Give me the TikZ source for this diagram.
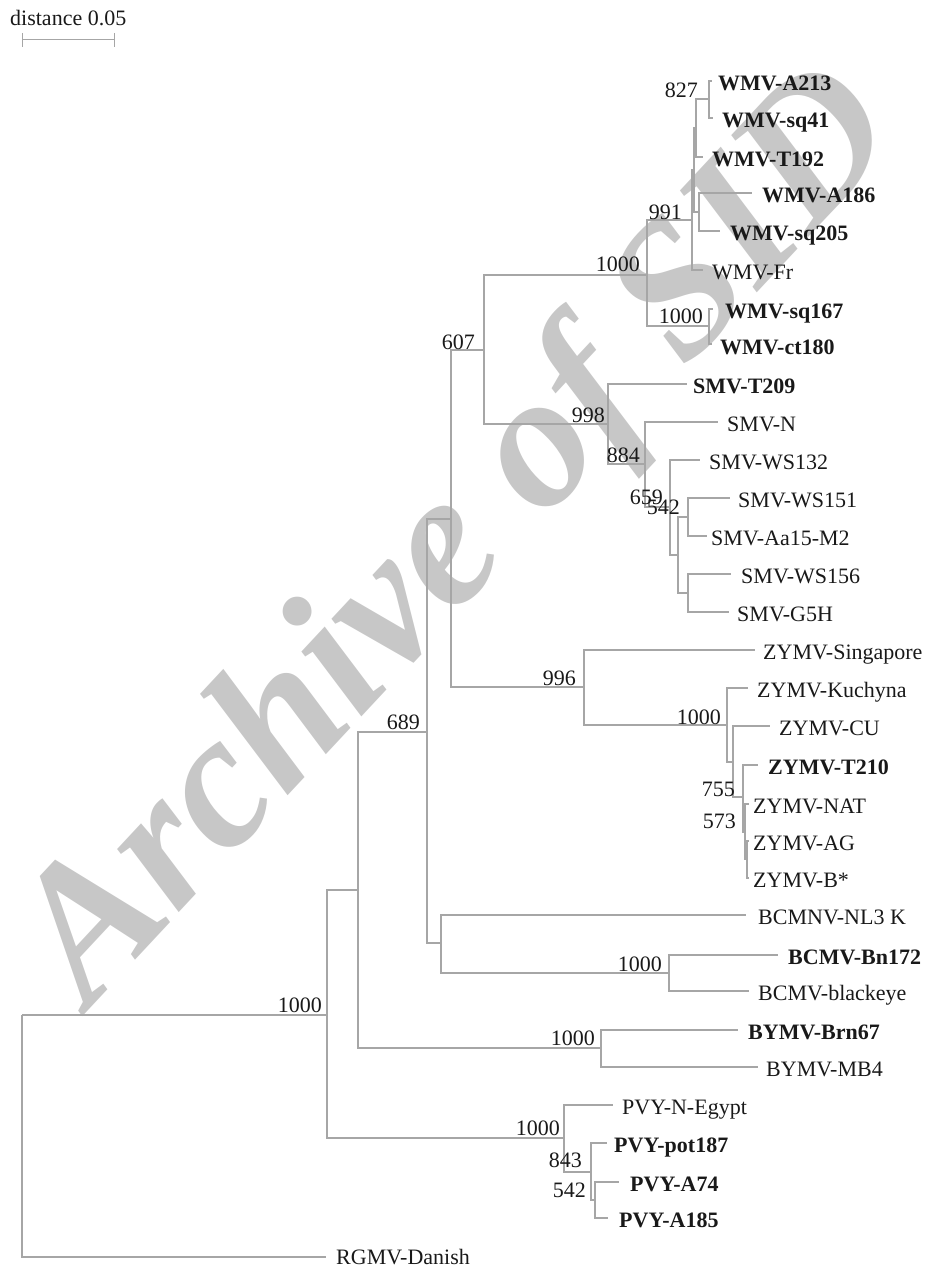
\documentclass[tikz,border=0pt]{standalone}
\usepackage{fontspec}
\setmainfont{Liberation Serif}
\begin{document}
\begin{tikzpicture}[x=1pt,y=-1pt,
  branch/.style={draw=black!35,line width=1.3pt},
  leaf/.style={anchor=west,inner sep=0pt,text height=14.5pt,text depth=0pt,text=black!90,font=\fontsize{22}{26}\selectfont},
  leafb/.style={leaf,font=\fontsize{22}{26}\selectfont\bfseries},
  boot/.style={anchor=east,inner sep=0pt,text height=14.5pt,text depth=0pt,text=black!90,font=\fontsize{22}{26}\selectfont},
  wmark/.style={rotate=47,text=black!22,inner sep=0pt,font=\fontsize{192}{192}\selectfont\bfseries\itshape}]
\useasboundingbox (0,0) rectangle (933,1268);
% watermark
\node[wmark] (wm) at (462,540) {Archive of SID};
% scale bar
\node[leaf] (dist) at (10,18) {distance 0.05};
\coordinate (sbL) at (22,40); \coordinate (sbR) at (114,40);
\coordinate (sbLt) at (22,33); \coordinate (sbLb) at (22,47);
\coordinate (sbRt) at (114,33); \coordinate (sbRb) at (114,47);
\draw[branch,line width=1pt] (sbL) -- (sbR) (sbLt) -- (sbLb) (sbRt) -- (sbRb);
% internal nodes
\coordinate (R) at (22,1015);
\coordinate (BIG) at (327,1015);
\coordinate (N358) at (358,890);
\coordinate (X) at (427,732);
\coordinate (N450) at (451,519);
\coordinate (N607) at (484,350);
\coordinate (WMVc) at (647,275);
\coordinate (N991) at (692,220);
\coordinate (D) at (694,170);
\coordinate (E) at (696,128);
\coordinate (N827) at (709,99);
\coordinate (F) at (699,212);
\coordinate (N1000b) at (709,326);
\coordinate (N998) at (608,424);
\coordinate (N884) at (645,464);
\coordinate (N659) at (670,507);
\coordinate (N542) at (678,555);
\coordinate (N151) at (688,517);
\coordinate (N156) at (688,593);
\coordinate (N996) at (584,687);
\coordinate (NZi) at (727,725);
\coordinate (N733) at (733,762);
\coordinate (NA) at (743,797);
\coordinate (NB) at (745,832);
\coordinate (NC) at (747,859);
\coordinate (N441) at (441,943);
\coordinate (NBC) at (669,973);
\coordinate (N601) at (601,1048);
\coordinate (N564) at (564,1138);
\coordinate (N843) at (591,1172);
\coordinate (N542p) at (595,1200);
% tip ends
\coordinate (tA213) at (712,81);
\coordinate (tsq41) at (713,118);
\coordinate (tT192) at (703,157);
\coordinate (tA186) at (752,193);
\coordinate (tsq205) at (720,231);
\coordinate (tFr) at (703,270);
\coordinate (tsq167) at (713,309);
\coordinate (tct180) at (712,344);
\coordinate (tT209) at (687,384);
\coordinate (tSMVN) at (718,422);
\coordinate (tWS132) at (700,460);
\coordinate (tWS151) at (730,498);
\coordinate (tAa15) at (707,536);
\coordinate (tWS156) at (731,574);
\coordinate (tG5H) at (729,612);
\coordinate (tSing) at (755,650);
\coordinate (tKuch) at (748,688);
\coordinate (tCU) at (770,726);
\coordinate (tT210) at (758,765);
\coordinate (tNAT) at (749,804);
\coordinate (tAG) at (749,841);
\coordinate (tB) at (749,878);
\coordinate (tNL3) at (746,915);
\coordinate (tBn172) at (778,955);
\coordinate (tblack) at (749,991);
\coordinate (tBrn67) at (738,1030);
\coordinate (tMB4) at (758,1067);
\coordinate (tNEg) at (613,1105);
\coordinate (tpot) at (607,1143);
\coordinate (tA74) at (619,1182);
\coordinate (tA185) at (608,1218);
\coordinate (tRGMV) at (326,1257);
% branches
\draw[branch]
 (R) |- (BIG) (R) |- (tRGMV)
 (BIG) |- (N358) (BIG) |- (N564)
 (N358) |- (X) (N358) |- (N601)
 (X) |- (N450) (X) |- (N441)
 (N450) |- (N607) (N450) |- (N996)
 (N607) |- (WMVc) (N607) |- (N998)
 (WMVc) |- (N991) (WMVc) |- (N1000b)
 (N991) |- (D) (N991) |- (tFr)
 (D) |- (E) (D) |- (F)
 (E) |- (N827) (E) |- (tT192)
 (N827) |- (tA213) (N827) |- (tsq41)
 (F) |- (tA186) (F) |- (tsq205)
 (N1000b) |- (tsq167) (N1000b) |- (tct180)
 (N998) |- (tT209) (N998) |- (N884)
 (N884) |- (tSMVN) (N884) |- (N659)
 (N659) |- (tWS132) (N659) |- (N542)
 (N542) |- (N151) (N542) |- (N156)
 (N151) |- (tWS151) (N151) |- (tAa15)
 (N156) |- (tWS156) (N156) |- (tG5H)
 (N996) |- (tSing) (N996) |- (NZi)
 (NZi) |- (tKuch) (NZi) |- (N733)
 (N733) |- (tCU) (N733) |- (NA)
 (NA) |- (tT210) (NA) |- (NB)
 (NB) |- (tNAT) (NB) |- (NC)
 (NC) |- (tAG) (NC) |- (tB)
 (N441) |- (tNL3) (N441) |- (NBC)
 (NBC) |- (tBn172) (NBC) |- (tblack)
 (N601) |- (tBrn67) (N601) |- (tMB4)
 (N564) |- (tNEg) (N564) |- (N843)
 (N843) |- (tpot) (N843) |- (N542p)
 (N542p) |- (tA74) (N542p) |- (tA185);
% leaf labels
\node[leafb] (lA213) at (718,83) {WMV-A213};
\node[leafb] (lsq41) at (722,120) {WMV-sq41};
\node[leafb] (lT192) at (712,159) {WMV-T192};
\node[leafb] (lA186) at (762,195) {WMV-A186};
\node[leafb] (lsq205) at (730,233) {WMV-sq205};
\node[leaf] (lFr) at (712,272) {WMV-Fr};
\node[leafb] (lsq167) at (725,311) {WMV-sq167};
\node[leafb] (lct180) at (720,347) {WMV-ct180};
\node[leafb] (lT209) at (693,386) {SMV-T209};
\node[leaf] (lSMVN) at (727,424) {SMV-N};
\node[leaf] (lWS132) at (709,462) {SMV-WS132};
\node[leaf] (lWS151) at (738,500) {SMV-WS151};
\node[leaf] (lAa15) at (711,538) {SMV-Aa15-M2};
\node[leaf] (lWS156) at (741,576) {SMV-WS156};
\node[leaf] (lG5H) at (737,614) {SMV-G5H};
\node[leaf] (lSing) at (763,652) {ZYMV-Singapore};
\node[leaf] (lKuch) at (757,690) {ZYMV-Kuchyna};
\node[leaf] (lCU) at (779,728) {ZYMV-CU};
\node[leafb] (lT210) at (768,767) {ZYMV-T210};
\node[leaf] (lNAT) at (753,806) {ZYMV-NAT};
\node[leaf] (lAG) at (753,843) {ZYMV-AG};
\node[leaf] (lB) at (753,880) {ZYMV-B*};
\node[leaf] (lNL3) at (758,917) {BCMNV-NL3 K};
\node[leafb] (lBn172) at (788,957) {BCMV-Bn172};
\node[leaf] (lblack) at (758,993) {BCMV-blackeye};
\node[leafb] (lBrn67) at (748,1032) {BYMV-Brn67};
\node[leaf] (lMB4) at (766,1069) {BYMV-MB4};
\node[leaf] (lNEg) at (622,1107) {PVY-N-Egypt};
\node[leafb] (lpot) at (614,1145) {PVY-pot187};
\node[leafb] (lA74) at (630,1184) {PVY-A74};
\node[leafb] (lA185) at (619,1220) {PVY-A185};
\node[leaf] (lRGMV) at (336,1257) {RGMV-Danish};
% bootstrap values
\node[boot] (b827) at (698,90) {827};
\node[boot] (b991) at (682,212) {991};
\node[boot] (bWMV) at (640,264) {1000};
\node[boot] (bsq) at (703,316) {1000};
\node[boot] (b607) at (475,342) {607};
\node[boot] (b998) at (605,415) {998};
\node[boot] (b884) at (640,455) {884};
\node[boot] (b659) at (663,497) {659};
\node[boot] (b542) at (680,507) {542};
\node[boot] (b996) at (576,678) {996};
\node[boot] (bZi) at (721,717) {1000};
\node[boot] (b689) at (420,722) {689};
\node[boot] (b755) at (735,789) {755};
\node[boot] (b573) at (736,821) {573};
\node[boot] (bBC) at (662,964) {1000};
\node[boot] (bBIG) at (322,1005) {1000};
\node[boot] (bBY) at (595,1038) {1000};
\node[boot] (bPVY) at (560,1128) {1000};
\node[boot] (b843) at (582,1160) {843};
\node[boot] (b542p) at (586,1190) {542};
\end{tikzpicture}
\end{document}
